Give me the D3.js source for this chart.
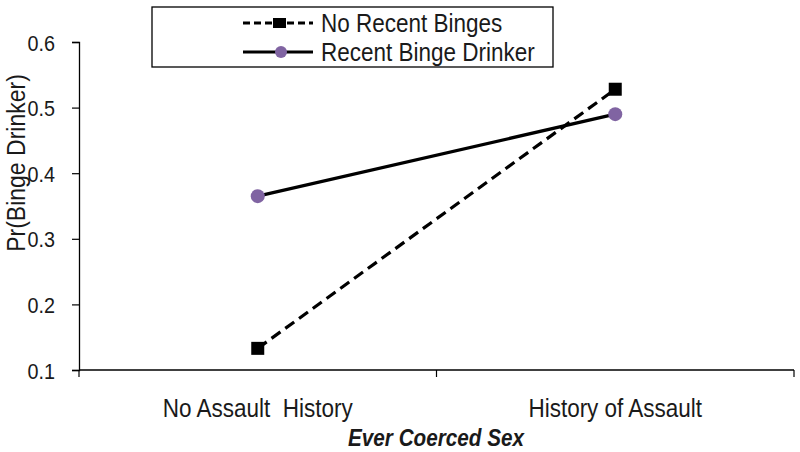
<!DOCTYPE html>
<html><head><meta charset="utf-8">
<script src="https://cdn.jsdelivr.net/npm/d3@7"></script>
<style>body{margin:0;background:#fff;} text{font-family:"Liberation Sans",Arial,sans-serif;}</style>
</head><body>
<svg id="c" width="800" height="452"></svg>
<script>
const categories = ["No Assault  History", "History of Assault"];
const seriesNames = ["No Recent Binges", "Recent Binge Drinker"];
const noRecentBinges = [0.133, 0.528];
const recentBingeDrinker = [0.365, 0.490];
const yTicks = [0.1, 0.2, 0.3, 0.4, 0.5, 0.6];

(function () {
const svg = d3.select("#c");
const mLeft = 79, mRight = 794, mTop = 42, mBottom = 370;
const x = d3.scaleBand().domain(categories).range([mLeft, mRight]);
const y = d3.scaleLinear().domain([0.1, 0.6]).range([mBottom, mTop]);
const ink = "#1a1a1a";

// condensed text helper
function ctext(parent, tx, ty, str, size, anchor, opts = {}) {
  const g = parent.append("g").attr("transform",
    `translate(${tx},${ty})` + (opts.rot ? ` rotate(${opts.rot})` : "") + ` scale(${opts.sx || 0.9},1)`);
  const t = g.append("text").attr("x", 0).attr("y", 0).attr("text-anchor", anchor)
    .attr("font-size", size).attr("fill", ink).style("white-space", "pre").text(str);
  if (opts.bold) t.attr("font-weight", "bold");
  if (opts.italic) t.attr("font-style", "italic");
  return g;
}

// y axis
const ya = svg.append("g").attr("transform", `translate(${mLeft},0)`)
  .call(d3.axisLeft(y).tickValues(yTicks).tickFormat(d3.format(".1f")).tickSize(7));
ya.select(".domain").attr("stroke", "#000").attr("stroke-width", 1.3);
ya.selectAll(".tick line").attr("stroke", "#000").attr("stroke-width", 1.2);
ya.selectAll(".tick text").remove();
ya.selectAll(".tick").each(function (d) {
  ctext(d3.select(this), -24, 8, d3.format(".1f")(d), 22, "end");
});

// x axis
const xa = svg.append("g").attr("transform", `translate(0,${mBottom})`);
xa.append("line").attr("x1", mLeft).attr("x2", mRight).attr("stroke", "#000").attr("stroke-width", 1.3);
const xb = [mLeft, ...categories.map(c => x(c) + x.bandwidth())];
xa.selectAll("line.t").data(xb).join("line").attr("class", "t")
  .attr("x1", d => d).attr("x2", d => d).attr("y1", 0).attr("y2", 7).attr("stroke", "#000").attr("stroke-width", 1.2);
categories.forEach(c => ctext(xa, x(c) + x.bandwidth() / 2, 47, c, 25, "middle"));

// axis titles
ctext(svg, 25, 163, "Pr(Binge Drinker)", 25, "middle", {rot: -90, sx: 0.92});
ctext(svg, 436, 446, "Ever Coerced Sex", 23, "middle", {bold: true, italic: true, sx: 0.9});

const cx = d => x(d) + x.bandwidth() / 2;
const line = d3.line().x(d => cx(d.c)).y(d => y(d.v));
const s1 = categories.map((c, i) => ({c, v: noRecentBinges[i]}));
const s2 = categories.map((c, i) => ({c, v: recentBingeDrinker[i]}));
const purple = "#8064A2";

svg.append("path").datum(s1).attr("d", line).attr("fill", "none").attr("stroke", "#000")
  .attr("stroke-width", 3.2).attr("stroke-dasharray", "11,6");
svg.append("path").datum(s2).attr("d", line).attr("fill", "none").attr("stroke", "#000")
  .attr("stroke-width", 3.2);
svg.selectAll("rect.m").data(s1).join("rect").attr("class", "m")
  .attr("x", d => cx(d.c) - 6.5).attr("y", d => y(d.v) - 6.5).attr("width", 13).attr("height", 13).attr("fill", "#000");
svg.selectAll("circle.m").data(s2).join("circle").attr("class", "m")
  .attr("cx", d => cx(d.c)).attr("cy", d => y(d.v)).attr("r", 7).attr("fill", purple);

// legend
const lg = svg.append("g");
lg.append("rect").attr("x", 152).attr("y", 7).attr("width", 401).attr("height", 60)
  .attr("fill", "#fff").attr("stroke", "#000").attr("stroke-width", 1.3);
const rows = [23, 52];
seriesNames.forEach((n, i) => {
  const yy = rows[i];
  lg.append("line").attr("x1", 243).attr("x2", 313).attr("y1", yy).attr("y2", yy)
    .attr("stroke", "#000").attr("stroke-width", 3).attr("stroke-dasharray", i === 0 ? "7,4" : null);
  if (i === 0) lg.append("rect").attr("x", 273).attr("y", yy - 5).attr("width", 13).attr("height", 10).attr("fill", "#000");
  else lg.append("circle").attr("cx", 281).attr("cy", yy).attr("r", 6).attr("fill", purple);
  ctext(lg, 321, yy + 9, n, 25, "start");
});
})();
</script>
</body></html>
